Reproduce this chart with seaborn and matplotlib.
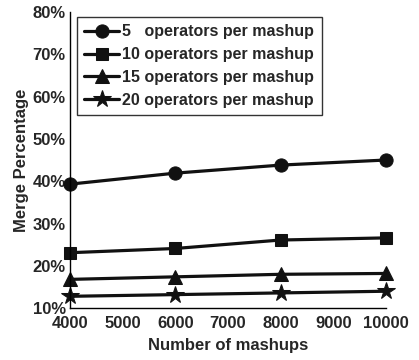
import matplotlib
matplotlib.use("Agg")
import matplotlib.pyplot as plt
import pandas as pd
import seaborn as sns

# data
mashups = [4000, 6000, 8000, 10000]
ops5 = [39.3, 41.9, 43.8, 45.0]
ops10 = [23.1, 24.1, 26.1, 26.6]
ops15 = [16.8, 17.4, 18.0, 18.2]
ops20 = [12.8, 13.2, 13.6, 14.0]
series_labels = ["5   operators per mashup", "10 operators per mashup",
                 "15 operators per mashup", "20 operators per mashup"]
markers = ["o", "s", "^", "*"]
msizes = [9.5, 8, 10.5, 13]

sns.set_style("white")
plt.rcParams['font.family'] = ['Liberation Sans', 'DejaVu Sans']
plt.rcParams['font.weight'] = 'bold'

rows = []
for lab, vals in zip(series_labels, [ops5, ops10, ops15, ops20]):
    for x, v in zip(mashups, vals):
        rows.append({"mashups": x, "pct": v, "series": lab})
df = pd.DataFrame(rows)

fig = plt.figure(figsize=(4.19, 3.6), dpi=100)
ax = fig.add_axes([0.167, 0.144, 0.754, 0.823])

for lab, mk, ms in zip(series_labels, markers, msizes):
    sub = df[df["series"] == lab]
    sns.lineplot(data=sub, x="mashups", y="pct", ax=ax, color="#111111",
                 marker=mk, markersize=ms, linewidth=2.3, label=lab,
                 markeredgecolor="#111111", clip_on=False)

ax.set_xlim(4000, 10000)
ax.set_ylim(10, 80)
ax.set_xticks(range(4000, 10001, 1000))
ax.set_yticks(range(10, 81, 10))
ax.set_yticklabels([f"{v}%" for v in range(10, 81, 10)])
ax.tick_params(direction="in", length=4, width=1, labelsize=12)
ax.tick_params(axis="x", pad=6)
ax.tick_params(axis="y", pad=3)
for t in ax.get_xticklabels() + ax.get_yticklabels():
    t.set_fontweight("bold")

ax.spines["top"].set_visible(False)
ax.spines["right"].set_visible(False)
for s in ("left", "bottom"):
    ax.spines[s].set_color("black")
    ax.spines[s].set_linewidth(1)

ax.set_xlabel("Number of mashups", fontsize=12, fontweight="bold", labelpad=5)
ax.set_ylabel("Merge Percentage", fontsize=12, fontweight="bold", labelpad=3)

leg = ax.legend(loc="upper left", bbox_to_anchor=(0.022, 0.983), frameon=True,
                fancybox=False, edgecolor="black",
                handlelength=2.2, handletextpad=0.2, labelspacing=0.5,
                borderpad=0.45, borderaxespad=0,
                prop={"weight": "bold", "size": 11.5})
leg.get_frame().set_linewidth(1)

fig.savefig("out.png", dpi=100)
